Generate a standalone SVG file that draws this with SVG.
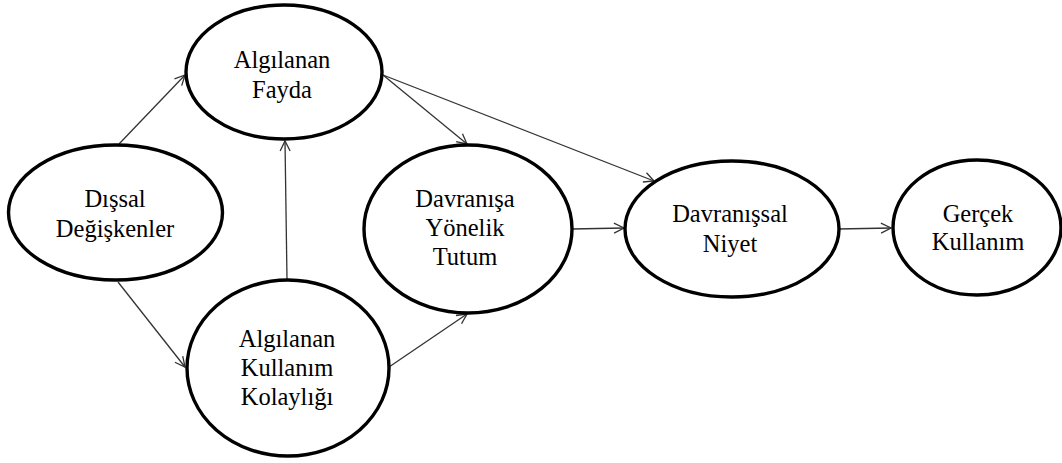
<svg xmlns="http://www.w3.org/2000/svg" width="1062" height="463" viewBox="0 0 1062 463">
<style>
.n{fill:#fff;stroke:#000;stroke-width:3.4}
.t{font-family:'Liberation Serif','DejaVu Serif',serif;font-size:24.5px;fill:#000;text-anchor:middle}
.c{stroke:#333;stroke-width:1.3;fill:none;marker-end:url(#a)}
</style>
<defs>
<marker id="a" markerUnits="userSpaceOnUse" markerWidth="14" markerHeight="14" refX="11" refY="6" orient="auto">
<path d="M1,1 L11,6 L1,11" fill="none" stroke="#333" stroke-width="1.3"/>
</marker>
</defs>
<rect width="1062" height="463" fill="#fff"/>
<g id="connectors">
<line class="c" x1="119" y1="144" x2="185" y2="75"/>
<line class="c" x1="118" y1="282" x2="185" y2="367"/>
<line class="c" x1="287" y1="280" x2="285" y2="141"/>
<line class="c" x1="383" y1="75" x2="467" y2="144"/>
<line class="c" x1="383" y1="75" x2="654" y2="181"/>
<line class="c" x1="389" y1="367" x2="467" y2="314"/>
<line class="c" x1="572" y1="229" x2="624" y2="228"/>
<line class="c" x1="838" y1="229" x2="891" y2="228"/>
</g>
<g id="algilanan-fayda">
<ellipse class="n" cx="284" cy="72" rx="98" ry="67"/>
<text class="t" x="282" y="68">Algılanan</text>
<text class="t" x="282" y="98">Fayda</text>
</g>
<g id="dissal-degiskenler">
<ellipse class="n" cx="115.5" cy="212.5" rx="107" ry="67.5"/>
<text class="t" x="115" y="207">Dışsal</text>
<text class="t" x="115" y="237">Değişkenler</text>
</g>
<g id="algilanan-kullanim-kolayligi">
<ellipse class="n" cx="288" cy="368" rx="101" ry="88"/>
<text class="t" x="287" y="347">Algılanan</text>
<text class="t" x="287" y="376">Kullanım</text>
<text class="t" x="287" y="405">Kolaylığı</text>
</g>
<g id="davranisa-yonelik-tutum">
<ellipse class="n" cx="468" cy="229" rx="104" ry="84"/>
<text class="t" x="465" y="207">Davranışa</text>
<text class="t" x="465" y="236">Yönelik</text>
<text class="t" x="465" y="265">Tutum</text>
</g>
<g id="davranissal-niyet">
<ellipse class="n" cx="732" cy="229" rx="107" ry="68"/>
<text class="t" x="730" y="222">Davranışsal</text>
<text class="t" x="730" y="252">Niyet</text>
</g>
<g id="gercek-kullanim">
<ellipse class="n" cx="977" cy="227.5" rx="84" ry="67.5"/>
<text class="t" x="978" y="222">Gerçek</text>
<text class="t" x="978" y="250">Kullanım</text>
</g>
</svg>
